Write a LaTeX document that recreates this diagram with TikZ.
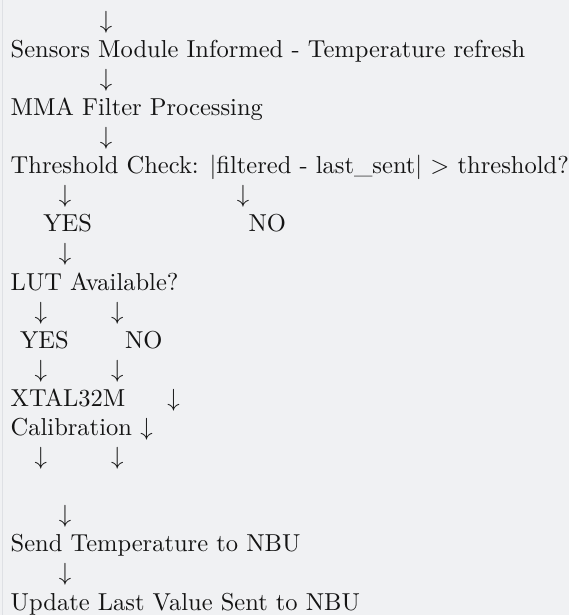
\documentclass[tikz,border=0pt]{standalone}
\usepackage{fontspec}
\setmainfont{lmroman10-regular.otf}
\definecolor{pagebg}{RGB}{240,241,243}
\definecolor{pageedge}{RGB}{222,224,228}
\definecolor{ink}{RGB}{20,20,20}
% baseline of text row #1 (rows are evenly spaced)
\newcommand{\rowy}[1]{57.3+(#1-1)*29.09}
\begin{document}
\begin{tikzpicture}[x=1bp,y=-1bp,
  txt/.style={anchor=base west,inner sep=0pt,outer sep=0pt,text=ink,
    font=\fontsize{24.5bp}{29bp}\selectfont},
  arr/.style={anchor=base,inner sep=0pt,outer sep=0pt,text=ink,
    font=\fontsize{24.5bp}{29bp}\selectfont}]
  % page
  \fill[pagebg] (0,0) rectangle (569,615);
  \useasboundingbox (0,0) rectangle (569,615);
  \fill[pageedge] (1.5,0) rectangle (3,615);
  % main chain
  \node[arr] (r0) at (106,{\rowy{0}}) {$\downarrow$};
  \node[txt] (sensors) at (10.7,{\rowy{1}}) {Sensors Module Informed - Temperature refresh};
  \node[arr] (r2) at (106,{\rowy{2}}) {$\downarrow$};
  \node[txt] (mma) at (10.7,{\rowy{3}}) {MMA Filter Processing};
  \node[arr] (r4) at (106,{\rowy{4}}) {$\downarrow$};
  \node[txt] (thresh) at (10.7,{\rowy{5}}) {Threshold Check: |filtered - last\_sent| > threshold?};
  % threshold branches
  \node[arr] (r6a) at (65,{\rowy{6}}) {$\downarrow$};
  \node[arr] (r6b) at (243,{\rowy{6}}) {$\downarrow$};
  \node[txt] (yes1) at (43.3,{\rowy{7}}) {YES};
  \node[txt] (no1) at (248.5,{\rowy{7}}) {NO};
  \node[arr] (r8) at (65,{\rowy{8}}) {$\downarrow$};
  \node[txt] (lut) at (10.7,{\rowy{9}}) {LUT Available?};
  % LUT branches
  \node[arr] (r10a) at (40.7,{\rowy{10}}) {$\downarrow$};
  \node[arr] (r10b) at (117.3,{\rowy{10}}) {$\downarrow$};
  \node[txt] (yes2) at (20,{\rowy{11}}) {YES};
  \node[txt] (no2) at (125,{\rowy{11}}) {NO};
  \node[arr] (r12a) at (40.7,{\rowy{12}}) {$\downarrow$};
  \node[arr] (r12b) at (117.3,{\rowy{12}}) {$\downarrow$};
  \node[txt] (xtal) at (10.7,{\rowy{13}}) {XTAL32M};
  \node[arr] (r13) at (173.6,{\rowy{13}}) {$\downarrow$};
  \node[txt] (calib) at (10.7,{\rowy{14}}) {Calibration};
  \node[arr] (r14) at (146.5,{\rowy{14}}) {$\downarrow$};
  \node[arr] (r15a) at (40.7,{\rowy{15}}) {$\downarrow$};
  \node[arr] (r15b) at (117.3,{\rowy{15}}) {$\downarrow$};
  % send and update
  \node[arr] (r17) at (65,{\rowy{17}}) {$\downarrow$};
  \node[txt] (send) at (10.7,{\rowy{18}}) {Send Temperature to NBU};
  \node[arr] (r19) at (65,{\rowy{19}}) {$\downarrow$};
  \node[txt] (update) at (10.7,{\rowy{20}}) {Update Last Value Sent to NBU};
\end{tikzpicture}
\end{document}
